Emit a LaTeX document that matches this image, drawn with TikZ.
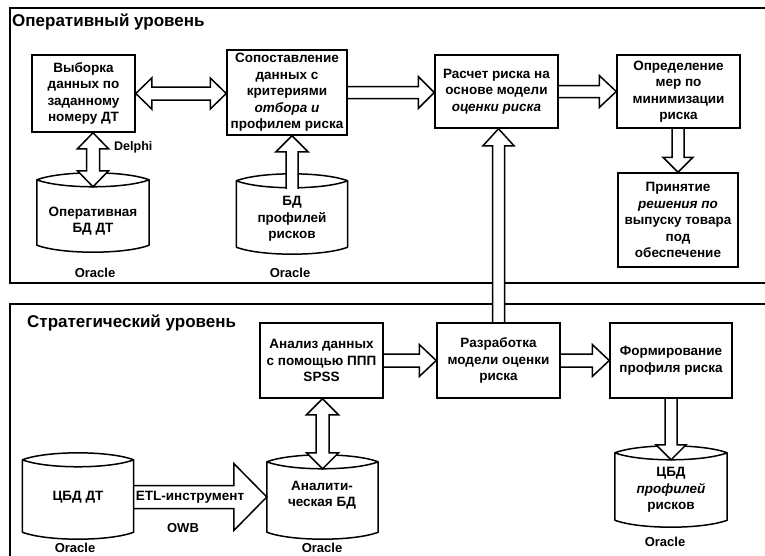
\documentclass[tikz,border=0pt]{standalone}
\usepackage{fontspec}
\setmainfont{Liberation Sans}
\usetikzlibrary{calc}
\pgfdeclarelayer{bg}
\pgfdeclarelayer{arr}
\pgfsetlayers{bg,arr,main}

\tikzset{
  box/.style={draw, line width=1.5pt, fill=white, align=center, inner sep=0pt,
    font=\fontsize{13.5}{16.5}\selectfont\bfseries},
  txt/.style={align=center, inner sep=0pt, font=\fontsize{13.5}{16.5}\selectfont\bfseries},
  lbl/.style={inner sep=0pt, font=\fontsize{13}{15}\selectfont\bfseries},
  ttl/.style={anchor=west, inner sep=0pt, font=\fontsize{17}{20}\selectfont\bfseries},
  frameline/.style={line width=1.8pt},
  cylline/.style={line width=1.5pt, line join=round},
  arrline/.style={line width=1.5pt, line join=miter},
}

% single hollow block arrow: [fill opts]{tail}{tip}{half shaft}{half head}{head length}
\newcommand\blockarrow[6][fill=white]{%
  \begin{pgfonlayer}{arr}
  \path (#2) coordinate (ba-t) (#3) coordinate (ba-h);
  \coordinate (ba-b) at ($(ba-h)!#6!(ba-t)$);
  \path[#1] ($(ba-t)!#4!90:(ba-h)$) -- ($(ba-b)!#4!90:(ba-h)$) -- ($(ba-b)!#5!90:(ba-h)$)
    -- (ba-h) -- ($(ba-b)!#5!-90:(ba-h)$) -- ($(ba-b)!#4!-90:(ba-h)$) -- ($(ba-t)!#4!-90:(ba-h)$) -- cycle;
  \draw[arrline] ($(ba-t)!#4!90:(ba-h)$) -- ($(ba-b)!#4!90:(ba-h)$) -- ($(ba-b)!#5!90:(ba-h)$)
    -- (ba-h) -- ($(ba-b)!#5!-90:(ba-h)$) -- ($(ba-b)!#4!-90:(ba-h)$) -- ($(ba-t)!#4!-90:(ba-h)$);
  \end{pgfonlayer}}

% double-headed hollow block arrow: {end A}{end B}{half shaft}{half head}{head length}
\newcommand\dblarrow[5]{%
  \begin{pgfonlayer}{arr}
  \path (#1) coordinate (da-a) (#2) coordinate (da-b);
  \coordinate (da-ha) at ($(da-a)!#5!(da-b)$);
  \coordinate (da-hb) at ($(da-b)!#5!(da-a)$);
  \filldraw[arrline, fill=white] (da-a) -- ($(da-ha)!#4!90:(da-b)$) -- ($(da-ha)!#3!90:(da-b)$)
    -- ($(da-hb)!#3!-90:(da-a)$) -- ($(da-hb)!#4!-90:(da-a)$) -- (da-b)
    -- ($(da-hb)!#4!90:(da-a)$) -- ($(da-hb)!#3!90:(da-a)$)
    -- ($(da-ha)!#3!-90:(da-b)$) -- ($(da-ha)!#4!-90:(da-b)$) -- cycle;
  \end{pgfonlayer}}

% cylinder: {name}{cx}{y of top corners}{y of bottom corners}{width}
\newcommand\dbcyl[5]{%
  \node[inner sep=0pt, minimum width=#5, minimum height={#4-#3}] (#1) at (#2,{(#3+#4)/2}) {};
  \coordinate (#1-top) at ($(#1.north)+(0,7)$);
  \begin{pgfonlayer}{bg}
  \draw[cylline] (#1.north west) -- (#1.south west)
    .. controls ($(#1.south west)!0.22!(#1.south east)+(0,9.3)$) and ($(#1.south west)!0.78!(#1.south east)+(0,9.3)$) .. (#1.south east)
    -- (#1.north east)
    .. controls ($(#1.north west)!0.78!(#1.north east)+(0,-9.3)$) and ($(#1.north west)!0.22!(#1.north east)+(0,-9.3)$) .. (#1.north west)
    .. controls ($(#1.north west)!0.22!(#1.north east)+(0,9.3)$) and ($(#1.north west)!0.78!(#1.north east)+(0,9.3)$) .. (#1.north east);
  \end{pgfonlayer}}

\begin{document}
\begin{tikzpicture}[x=1pt,y=-1pt]
\useasboundingbox (0,0) rectangle (765,555);

% frames
\begin{pgfonlayer}{bg}
\fill[white] (0,0) rectangle (765,555);
\draw[frameline] (766,8) -- (10,8) -- (10,283) -- (766,283);
\draw[frameline] (766,304) -- (10,304) -- (10,556);
\end{pgfonlayer}

\node[ttl] (t1) at (12,22) {Оперативный уровень};
\node[ttl] (t2) at (27,323) {Стратегический уровень};

% operative level boxes
\node[box, minimum width=103, minimum height=77] (vyb) at (83.5,93.5)
  {Выборка\\данных по\\заданному\\номеру ДТ};
\node[box, minimum width=120, minimum height=85] (sop) at (287,92.5)
  {Сопоставление\\данных с\\критериями\\\textit{отбора и}\\профилем риска};
\node[box, minimum width=123, minimum height=73] (rasch) at (496.5,91.5)
  {Расчет риска на\\основе модели\\\textit{оценки риска}};
\node[box, minimum width=123, minimum height=73] (opr) at (678.5,91.5)
  {Определение\\мер по\\минимизации\\риска};
\node[box, minimum width=120, minimum height=94] (prin) at (678,220)
  {Принятие\\\textit{решения по}\\выпуску товара\\под\\обеспечение};

% strategic level boxes
\node[box, minimum width=123, minimum height=75] (anal) at (321.5,360.5)
  {Анализ данных\\с помощью ППП\\SPSS};
\node[box, minimum width=123, minimum height=75] (razr) at (498.5,360.5)
  {Разработка\\модели оценки\\риска};
\node[box, minimum width=122, minimum height=75] (form) at (671,360.5)
  {Формирование\\профиля риска};

% databases
\dbcyl{cyl1}{93}{180}{245}{112}
\dbcyl{cyl2}{292}{181}{247}{111}
\dbcyl{cyl3}{78}{460}{532}{111}
\dbcyl{cyl4}{322.5}{462}{532}{111}
\dbcyl{cyl5}{671}{453}{520}{112}

\node[txt] (c1t) at (93,221) {Оперативная\\БД ДТ};
\node[txt] (c2t) at (292,219) {БД\\профилей\\рисков};
\node[txt] (c3t) at (78,497) {ЦБД ДТ};
\node[txt] (c4t) at (322,495) {Аналити-\\ческая БД};
\node[txt] (c5t) at (671,490) {ЦБД\\\textit{профилей}\\рисков};

\node[lbl] (o1) at (95,273) {Oracle};
\node[lbl] (o2) at (290,273) {Oracle};
\node[lbl] (o3) at (75,548) {Oracle};
\node[lbl] (o4) at (322,548) {Oracle};
\node[lbl] (o5) at (665,542) {Oracle};

\node[lbl, anchor=west, font=\fontsize{12.5}{14}\selectfont\bfseries] (delphi) at (114,147) {Delphi};
\node[txt] (etl) at (190,497) {ETL-инструмент};
\node[lbl] (owb) at (183,528) {OWB};

% connectors
\dblarrow{vyb.east}{vyb.east -| sop.west}{6.5pt}{15.5pt}{16pt}
\dblarrow{cyl1.north |- vyb.south}{cyl1-top}{6.5pt}{15.5pt}{16pt}
\blockarrow{$(cyl2-top)+(0,1)$}{cyl2-top |- sop.south}{6pt}{16pt}{16pt}
\blockarrow{sop.east}{sop.east -| rasch.west}{6pt}{16pt}{16pt}
\blockarrow{rasch.east}{rasch.east -| opr.west}{6pt}{16pt}{17pt}
\blockarrow{opr.south -| prin.north}{prin.north}{6pt}{15pt}{15pt}
\blockarrow{razr.north}{razr.north |- rasch.south}{6pt}{15.5pt}{17pt}
\blockarrow{anal.east}{anal.east -| razr.west}{6.5pt}{16pt}{17pt}
\blockarrow{razr.east}{razr.east -| form.west}{6.5pt}{16pt}{17pt}
\blockarrow{form.south -| cyl5-top}{cyl5-top}{6pt}{15pt}{15pt}
\dblarrow{anal.south -| cyl4-top}{cyl4-top}{6.5pt}{16pt}{16pt}
\blockarrow[fill=none]{etl -| cyl3.east}{etl -| cyl4.west}{11.5pt}{33.5pt}{33pt}
\end{tikzpicture}
\end{document}
